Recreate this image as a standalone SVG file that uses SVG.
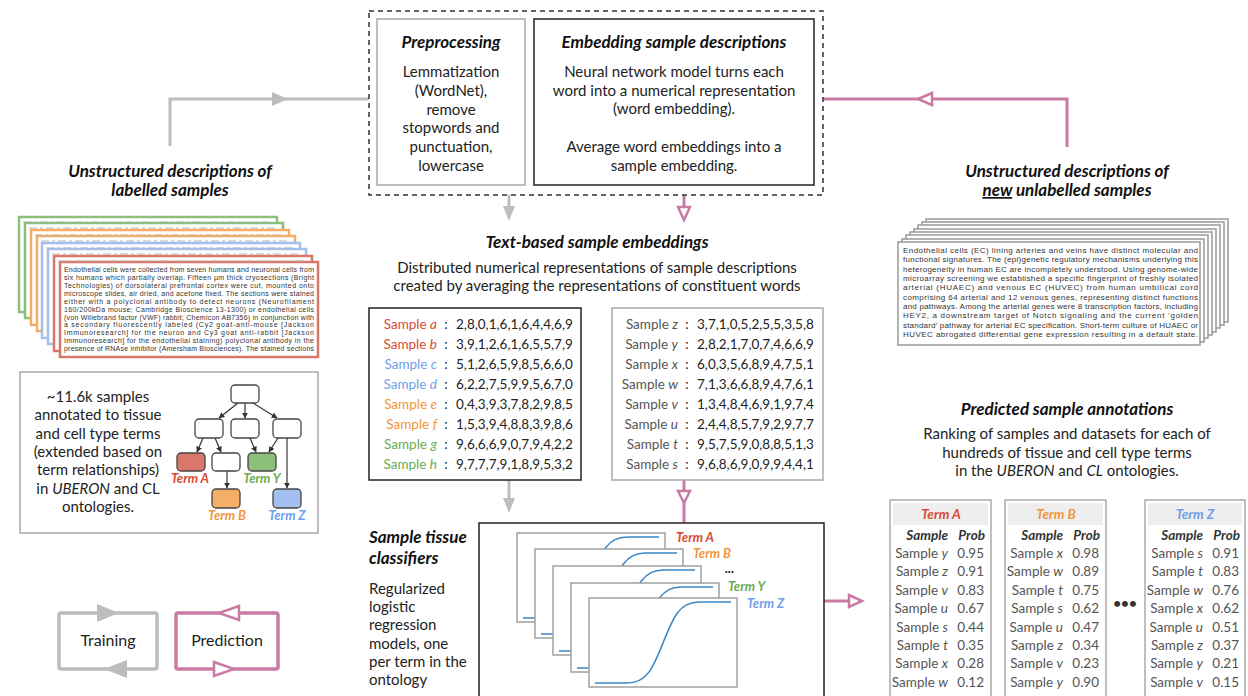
<svg xmlns="http://www.w3.org/2000/svg" xmlns:xlink="http://www.w3.org/1999/xlink" width="1248" height="696" viewBox="0 0 1248 696">
<style>
text{font-family:Lato,"Liberation Sans",sans-serif;fill:#222}
.h{font-size:17px;font-weight:700;font-style:italic;fill:#111}
.b{font-size:15px}
.c{text-anchor:middle}
.e{text-anchor:end}
.i{font-style:italic}
.doc{font-family:"Liberation Sans",Arial,sans-serif;fill:#333}
.gl{stroke:#bdbdbd;stroke-width:3;fill:none}
.pl{stroke:#c97ba5;stroke-width:3;fill:none}
.ga{fill:#bdbdbd}
.pa{fill:#fff;stroke:#c97ba5;stroke-width:2.5}
.tn{fill:#fff;stroke:#444;stroke-width:1.3}
.te{stroke:#333;stroke-width:1.2;fill:none;marker-end:url(#tri)}
.tl{font-size:13px;font-weight:700;font-style:italic}
.s{font-size:13.5px}
.g{fill:#555}
.th{font-size:13.5px;font-weight:700;font-style:italic;fill:#333}
.red{fill:#d94a33}.org{fill:#f0953c}.blu{fill:#6f9fe8}.grn{fill:#6aab52}
</style>
<defs>
<marker id="tri" viewBox="0 0 10 10" refX="9" refY="5" markerWidth="6" markerHeight="6" markerUnits="userSpaceOnUse" orient="auto"><path d="M0,0 L10,5 L0,10 z" fill="#333"/></marker>
<g id="card"><rect x="0" y="0" width="148" height="89" fill="#fff" stroke="#a0a0a0" stroke-width="1.5"/><path d="M6,85 H38 C58,85 64,70 74,45 C84,20 90,4 110,4 H142" fill="none" stroke="#3a87c8" stroke-width="1.6"/></g>
</defs>
<rect width="1248" height="696" fill="#fff"/>

<g id="connectors">
<polyline class="gl" points="170,146 170,99 369,99"/>
<polygon class="ga" points="272,92 288,99 272,106"/>
<polyline class="pl" points="1067,147 1067,99 823,99"/>
<polygon class="pa" points="932,93 918,99 932,105"/>
<line class="gl" x1="509" y1="195" x2="509" y2="208"/>
<polygon class="ga" points="503,206 515,206 509,221"/>
<line class="pl" x1="684" y1="195" x2="684" y2="208"/>
<polygon class="pa" points="678,207 690,207 684,220"/>
<line class="gl" x1="509" y1="480" x2="509" y2="500"/>
<polygon class="ga" points="503,498 515,498 509,513"/>
<line class="pl" x1="684" y1="480" x2="684" y2="523"/>
<polygon class="pa" points="678,491 690,491 684,503"/>
<line class="pl" x1="824" y1="601" x2="862" y2="601"/>
<polygon class="pa" points="849,595 862,601 849,607"/>
</g>

<g id="pipeline">
<rect x="369" y="11" width="454" height="184" fill="none" stroke="#333" stroke-width="1.5" stroke-dasharray="5,4"/>
</g>
<g id="preprocessing">
<rect x="377" y="19" width="148" height="166" fill="#fff" stroke="#aaa" stroke-width="1.5"/>
<text class="h c" x="451" y="48">Preprocessing</text>
<text class="b c" x="451" y="77">Lemmatization</text>
<text class="b c" x="451" y="96">(WordNet),</text>
<text class="b c" x="451" y="115">remove</text>
<text class="b c" x="451" y="133">stopwords and</text>
<text class="b c" x="451" y="152">punctuation,</text>
<text class="b c" x="451" y="171">lowercase</text>
</g>
<g id="embedding">
<rect x="534" y="19" width="280" height="166" fill="#fff" stroke="#222" stroke-width="1.5"/>
<text class="h c" x="674" y="48">Embedding sample descriptions</text>
<text class="b c" x="674" y="77">Neural network model turns each</text>
<text class="b c" x="674" y="96">word into a numerical representation</text>
<text class="b c" x="674" y="114">(word embedding).</text>
<text class="b c" x="674" y="152">Average word embeddings into a</text>
<text class="b c" x="674" y="171">sample embedding.</text>
</g>

<g id="labelled-label">
<text class="h c" x="170" y="177">Unstructured descriptions of</text>
<text class="h c" x="170" y="196">labelled samples</text>
</g>
<g id="unlabelled-label">
<text class="h c" x="1067" y="177">Unstructured descriptions of</text>
<text class="h c" x="1067" y="196"><tspan text-decoration="underline">new</tspan> unlabelled samples</text>
</g>

<g id="labelled-docs">
<g stroke-width="2.5" fill="#fff">
<rect x="19" y="217" width="258" height="95" stroke="#8cc07a"/>
<rect x="25" y="223" width="258" height="95" stroke="#8cc07a"/>
<rect x="31" y="230" width="258" height="95" stroke="#f5ad66"/>
<rect x="37" y="236" width="258" height="95" stroke="#f5ad66"/>
<rect x="42" y="243" width="258" height="95" stroke="#a2bff0"/>
<rect x="48" y="249" width="258" height="95" stroke="#a2bff0"/>
<rect x="54" y="256" width="258" height="95" stroke="#d9776a"/>
<rect x="60" y="262" width="258" height="95" stroke="#d9776a"/>
</g>
<g stroke="#b5b5b5" stroke-width="1" stroke-dasharray="8,3,3,3">
<line x1="23" y1="222" x2="270" y2="222"/>
<line x1="29" y1="228" x2="276" y2="228"/>
<line x1="35" y1="235" x2="282" y2="235"/>
<line x1="41" y1="241" x2="288" y2="241"/>
<line x1="46" y1="248" x2="293" y2="248"/>
<line x1="52" y1="254" x2="299" y2="254"/>
<line x1="58" y1="261" x2="305" y2="261"/>
</g>
<g class="doc" font-size="7">
<text class="doc" x="64" y="272" textLength="250" lengthAdjust="spacing">Endothelial cells were collected from seven humans and neuronal cells from</text>
<text class="doc" x="64" y="280" textLength="250" lengthAdjust="spacing">six humans which partially overlap. Fifteen µm thick cryosections (Bright</text>
<text class="doc" x="64" y="288" textLength="250" lengthAdjust="spacing">Technologies) of dorsolateral prefrontal cortex were cut, mounted onto</text>
<text class="doc" x="64" y="296" textLength="250" lengthAdjust="spacing">microscope slides, air dried, and acetone fixed. The sections were stained</text>
<text class="doc" x="64" y="304" textLength="250" lengthAdjust="spacing">either with a polyclonal antibody to detect neurons (Neurofilament</text>
<text class="doc" x="64" y="312" textLength="250" lengthAdjust="spacing">160/200kDa mouse; Cambridge Bioscience 13-1300) or endothelial cells</text>
<text class="doc" x="64" y="320" textLength="250" lengthAdjust="spacing">(von Willebrand factor (VWF) rabbit; Chemicon AB7356) in conjunction with</text>
<text class="doc" x="64" y="327" textLength="250" lengthAdjust="spacing">a secondary fluorescently labeled (Cy2 goat-anti-mouse [Jackson</text>
<text class="doc" x="64" y="335" textLength="250" lengthAdjust="spacing">Immunoresearch] for the neuron and Cy3 goat anti-rabbit [Jackson</text>
<text class="doc" x="64" y="343" textLength="250" lengthAdjust="spacing">Immunoresearch] for the endothelial staining) polyclonal antibody in the</text>
<text class="doc" x="64" y="351" textLength="250" lengthAdjust="spacing">presence of RNAse inhibitor (Amersham Biosciences). The stained sections</text>
</g>
</g>

<g id="unlabelled-docs">
<g fill="#fff" stroke="#999" stroke-width="1.5">
<rect x="926" y="219" width="302" height="103"/>
<rect x="922" y="222" width="302" height="103"/>
<rect x="918" y="225" width="302" height="103"/>
<rect x="914" y="229" width="302" height="103"/>
<rect x="910" y="232" width="302" height="103"/>
<rect x="906" y="235" width="302" height="103"/>
<rect x="902" y="239" width="302" height="103"/>
<rect x="898" y="242" width="302" height="103"/>
</g>
<g font-size="8">
<text class="doc" x="903" y="253" textLength="295" lengthAdjust="spacing" font-size="8">Endothelial cells (EC) lining arteries and veins have distinct molecular and</text>
<text class="doc" x="903" y="262" textLength="295" lengthAdjust="spacing" font-size="8">functional signatures. The (epi)genetic regulatory mechanisms underlying this</text>
<text class="doc" x="903" y="272" textLength="295" lengthAdjust="spacing" font-size="8">heterogeneity in human EC are incompletely understood. Using genome-wide</text>
<text class="doc" x="903" y="281" textLength="295" lengthAdjust="spacing" font-size="8">microarray screening we established a specific fingerprint of freshly isolated</text>
<text class="doc" x="903" y="290" textLength="295" lengthAdjust="spacing" font-size="8">arterial (HUAEC) and venous EC (HUVEC) from human umbilical cord</text>
<text class="doc" x="903" y="300" textLength="295" lengthAdjust="spacing" font-size="8">comprising 64 arterial and 12 venous genes, representing distinct functions</text>
<text class="doc" x="903" y="309" textLength="295" lengthAdjust="spacing" font-size="8">and pathways. Among the arterial genes were 8 transcription factors, including</text>
<text class="doc" x="903" y="318" textLength="295" lengthAdjust="spacing" font-size="8">HEY2, a downstream target of Notch signaling and the current ‘golden</text>
<text class="doc" x="903" y="328" textLength="295" lengthAdjust="spacing" font-size="8">standard’ pathway for arterial EC specification. Short-term culture of HUAEC or</text>
<text class="doc" x="903" y="337" textLength="295" lengthAdjust="spacing" font-size="8">HUVEC abrogated differential gene expression resulting in a default state.</text>
</g>
</g>

<g id="ontology-box">
<rect x="20" y="372" width="298" height="161" fill="#fff" stroke="#aaa" stroke-width="1.5"/>
<text class="b c" font-size="15.5" x="98" y="402">~11.6k samples</text>
<text class="b c" font-size="15.5" x="98" y="420">annotated to tissue</text>
<text class="b c" font-size="15.5" x="98" y="439">and cell type terms</text>
<text class="b c" font-size="15.5" x="98" y="457">(extended based on</text>
<text class="b c" font-size="15.5" x="98" y="475">term relationships)</text>
<text class="b c" font-size="15.5" x="98" y="494">in <tspan class="i">UBERON</tspan> and CL</text>
<text class="b c" font-size="15.5" x="98" y="512">ontologies.</text>
<g id="tree-edges">
<line class="te" x1="238" y1="403" x2="219" y2="418"/>
<line class="te" x1="245" y1="403" x2="245" y2="418"/>
<line class="te" x1="253" y1="403" x2="277" y2="418"/>
<line class="te" x1="203" y1="438" x2="197" y2="452"/>
<line class="te" x1="215" y1="438" x2="221" y2="452"/>
<line class="te" x1="250" y1="438" x2="256" y2="452"/>
<line class="te" x1="278" y1="438" x2="269" y2="452"/>
<line class="te" x1="287" y1="438" x2="287" y2="488"/>
<line class="te" x1="227" y1="471" x2="227" y2="488"/>
</g>
<rect class="tn" x="231" y="385" width="28" height="18" rx="4"/>
<rect class="tn" x="195" y="419" width="28" height="19" rx="4"/>
<rect class="tn" x="231" y="419" width="28" height="19" rx="4"/>
<rect class="tn" x="273" y="419" width="28" height="19" rx="4"/>
<rect class="tn" x="177" y="453" width="28" height="18" rx="4" style="fill:#d9776a"/>
<rect class="tn" x="212" y="453" width="28" height="18" rx="4"/>
<rect class="tn" x="248" y="453" width="28" height="18" rx="4" style="fill:#8cc07a"/>
<rect class="tn" x="212" y="489" width="28" height="19" rx="4" style="fill:#f5ae66"/>
<rect class="tn" x="273" y="489" width="28" height="19" rx="4" style="fill:#a2bff0"/>
<text class="tl c red" x="190" y="483">Term A</text>
<text class="tl c grn" x="262" y="483">Term Y</text>
<text class="tl c org" x="227" y="520">Term B</text>
<text class="tl c blu" x="287" y="520">Term Z</text>
</g>

<g id="embeddings-title">
<text class="h c" x="597" y="248">Text-based sample embeddings</text>
<text class="b c" x="597" y="273">Distributed numerical representations of sample descriptions</text>
<text class="b c" x="597" y="291">created by averaging the representations of constituent words</text>
</g>

<g id="labelled-embeddings">
<rect x="369" y="308" width="212" height="172" fill="#fff" stroke="#222" stroke-width="1.5"/>
<g class="s">
<text class="s e red" x="437" y="329">Sample <tspan class="i">a</tspan></text>
<text class="s e red" x="437" y="349">Sample <tspan class="i">b</tspan></text>
<text class="s e blu" x="437" y="369">Sample <tspan class="i">c</tspan></text>
<text class="s e blu" x="437" y="389">Sample <tspan class="i">d</tspan></text>
<text class="s e org" x="437" y="409">Sample <tspan class="i">e</tspan></text>
<text class="s e org" x="437" y="429">Sample <tspan class="i">f</tspan></text>
<text class="s e grn" x="437" y="449">Sample <tspan class="i">g</tspan></text>
<text class="s e grn" x="437" y="469">Sample <tspan class="i">h</tspan></text>
<text class="s c" x="446" y="329">:</text><text class="s" x="456" y="329">2,8,0,1,6,1,6,4,4,6,9</text>
<text class="s c" x="446" y="349">:</text><text class="s" x="456" y="349">3,9,1,2,6,1,6,5,5,7,9</text>
<text class="s c" x="446" y="369">:</text><text class="s" x="456" y="369">5,1,2,6,5,9,8,5,6,6,0</text>
<text class="s c" x="446" y="389">:</text><text class="s" x="456" y="389">6,2,2,7,5,9,9,5,6,7,0</text>
<text class="s c" x="446" y="409">:</text><text class="s" x="456" y="409">0,4,3,9,3,7,8,2,9,8,5</text>
<text class="s c" x="446" y="429">:</text><text class="s" x="456" y="429">1,5,3,9,4,8,8,3,9,8,6</text>
<text class="s c" x="446" y="449">:</text><text class="s" x="456" y="449">9,6,6,6,9,0,7,9,4,2,2</text>
<text class="s c" x="446" y="469">:</text><text class="s" x="456" y="469">9,7,7,7,9,1,8,9,5,3,2</text>
</g>
</g>

<g id="unlabelled-embeddings">
<rect x="612" y="308" width="211" height="172" fill="#fff" stroke="#aaa" stroke-width="1.5"/>
<text class="s e g" x="678" y="329">Sample <tspan class="i">z</tspan></text>
<text class="s e g" x="678" y="349">Sample <tspan class="i">y</tspan></text>
<text class="s e g" x="678" y="369">Sample <tspan class="i">x</tspan></text>
<text class="s e g" x="678" y="389">Sample <tspan class="i">w</tspan></text>
<text class="s e g" x="678" y="409">Sample <tspan class="i">v</tspan></text>
<text class="s e g" x="678" y="429">Sample <tspan class="i">u</tspan></text>
<text class="s e g" x="678" y="449">Sample <tspan class="i">t</tspan></text>
<text class="s e g" x="678" y="469">Sample <tspan class="i">s</tspan></text>
<text class="s c" x="687" y="329">:</text><text class="s" x="697" y="329">3,7,1,0,5,2,5,5,3,5,8</text>
<text class="s c" x="687" y="349">:</text><text class="s" x="697" y="349">2,8,2,1,7,0,7,4,6,6,9</text>
<text class="s c" x="687" y="369">:</text><text class="s" x="697" y="369">6,0,3,5,6,8,9,4,7,5,1</text>
<text class="s c" x="687" y="389">:</text><text class="s" x="697" y="389">7,1,3,6,6,8,9,4,7,6,1</text>
<text class="s c" x="687" y="409">:</text><text class="s" x="697" y="409">1,3,4,8,4,6,9,1,9,7,4</text>
<text class="s c" x="687" y="429">:</text><text class="s" x="697" y="429">2,4,4,8,5,7,9,2,9,7,7</text>
<text class="s c" x="687" y="449">:</text><text class="s" x="697" y="449">9,5,7,5,9,0,8,8,5,1,3</text>
<text class="s c" x="687" y="469">:</text><text class="s" x="697" y="469">9,6,8,6,9,0,9,9,4,4,1</text>
</g>

<g id="classifiers-label">
<text class="h" x="369" y="543">Sample tissue</text>
<text class="h" x="369" y="564">classifiers</text>
<text class="b" x="369" y="594">Regularized</text>
<text class="b" x="369" y="612">logistic</text>
<text class="b" x="369" y="630">regression</text>
<text class="b" x="369" y="649">models, one</text>
<text class="b" x="369" y="667">per term in the</text>
<text class="b" x="369" y="685">ontology</text>
</g>

<g id="classifiers">
<rect x="479" y="523" width="345" height="178" fill="#fff" stroke="#222" stroke-width="1.5"/>
<use xlink:href="#card" href="#card" x="517" y="533"/>
<use xlink:href="#card" href="#card" x="535" y="549"/>
<use xlink:href="#card" href="#card" x="553" y="566"/>
<use xlink:href="#card" href="#card" x="571" y="583"/>
<use xlink:href="#card" href="#card" x="589" y="598"/>
<text class="tl red" x="676" y="542">Term A</text>
<text class="tl org" x="693" y="558">Term B</text>
<text class="tl" x="725" y="573">...</text>
<text class="tl grn" x="728" y="591">Term Y</text>
<text class="tl blu" x="747" y="608">Term Z</text>
</g>

<g id="predicted-title">
<text class="h c" x="1067" y="415">Predicted sample annotations</text>
<text class="b c" x="1067" y="439">Ranking of samples and datasets for each of</text>
<text class="b c" x="1067" y="458">hundreds of tissue and cell type terms</text>
<text class="b c" x="1067" y="476">in the <tspan class="i">UBERON</tspan> and <tspan class="i">CL</tspan> ontologies.</text>
</g>

<g id="table-a" transform="translate(890,0)">
<rect x="0" y="500" width="101" height="198" fill="#fff" stroke="#aaa" stroke-width="1.5"/>
<rect x="3" y="503" width="95" height="22" fill="#eeeeee"/>
<text class="th c red" x="51" y="519">Term A</text>
<text class="th e" x="58" y="540">Sample</text><text class="th e" x="95" y="540">Prob</text>
<text class="s e g" x="58" y="558">Sample <tspan class="i">y</tspan></text><text class="s e g" x="94" y="558">0.95</text>
<text class="s e g" x="58" y="576">Sample <tspan class="i">z</tspan></text><text class="s e g" x="94" y="576">0.91</text>
<text class="s e g" x="58" y="595">Sample <tspan class="i">v</tspan></text><text class="s e g" x="94" y="595">0.83</text>
<text class="s e g" x="58" y="613">Sample <tspan class="i">u</tspan></text><text class="s e g" x="94" y="613">0.67</text>
<text class="s e g" x="58" y="632">Sample <tspan class="i">s</tspan></text><text class="s e g" x="94" y="632">0.44</text>
<text class="s e g" x="58" y="650">Sample <tspan class="i">t</tspan></text><text class="s e g" x="94" y="650">0.35</text>
<text class="s e g" x="58" y="668">Sample <tspan class="i">x</tspan></text><text class="s e g" x="94" y="668">0.28</text>
<text class="s e g" x="58" y="687">Sample <tspan class="i">w</tspan></text><text class="s e g" x="94" y="687">0.12</text>
</g>
<g id="table-b" transform="translate(1005,0)">
<rect x="0" y="500" width="101" height="198" fill="#fff" stroke="#aaa" stroke-width="1.5"/>
<rect x="3" y="503" width="95" height="22" fill="#eeeeee"/>
<text class="th c org" x="51" y="519">Term B</text>
<text class="th e" x="58" y="540">Sample</text><text class="th e" x="95" y="540">Prob</text>
<text class="s e g" x="58" y="558">Sample <tspan class="i">x</tspan></text><text class="s e g" x="94" y="558">0.98</text>
<text class="s e g" x="58" y="576">Sample <tspan class="i">w</tspan></text><text class="s e g" x="94" y="576">0.89</text>
<text class="s e g" x="58" y="595">Sample <tspan class="i">t</tspan></text><text class="s e g" x="94" y="595">0.75</text>
<text class="s e g" x="58" y="613">Sample <tspan class="i">s</tspan></text><text class="s e g" x="94" y="613">0.62</text>
<text class="s e g" x="58" y="632">Sample <tspan class="i">u</tspan></text><text class="s e g" x="94" y="632">0.47</text>
<text class="s e g" x="58" y="650">Sample <tspan class="i">z</tspan></text><text class="s e g" x="94" y="650">0.34</text>
<text class="s e g" x="58" y="668">Sample <tspan class="i">v</tspan></text><text class="s e g" x="94" y="668">0.23</text>
<text class="s e g" x="58" y="687">Sample <tspan class="i">y</tspan></text><text class="s e g" x="94" y="687">0.90</text>
</g>
<g id="table-ellipsis">
<text class="th c" x="1125" y="608" style="font-style:normal">•••</text>
</g>
<g id="table-z" transform="translate(1145,0)">
<rect x="0" y="500" width="100" height="198" fill="#fff" stroke="#aaa" stroke-width="1.5"/>
<rect x="3" y="503" width="94" height="22" fill="#eeeeee"/>
<text class="th c blu" x="50" y="519">Term Z</text>
<text class="th e" x="58" y="540">Sample</text><text class="th e" x="95" y="540">Prob</text>
<text class="s e g" x="58" y="558">Sample <tspan class="i">s</tspan></text><text class="s e g" x="94" y="558">0.91</text>
<text class="s e g" x="58" y="576">Sample <tspan class="i">t</tspan></text><text class="s e g" x="94" y="576">0.83</text>
<text class="s e g" x="58" y="595">Sample <tspan class="i">w</tspan></text><text class="s e g" x="94" y="595">0.76</text>
<text class="s e g" x="58" y="613">Sample <tspan class="i">x</tspan></text><text class="s e g" x="94" y="613">0.62</text>
<text class="s e g" x="58" y="632">Sample <tspan class="i">u</tspan></text><text class="s e g" x="94" y="632">0.51</text>
<text class="s e g" x="58" y="650">Sample <tspan class="i">z</tspan></text><text class="s e g" x="94" y="650">0.37</text>
<text class="s e g" x="58" y="668">Sample <tspan class="i">y</tspan></text><text class="s e g" x="94" y="668">0.21</text>
<text class="s e g" x="58" y="687">Sample <tspan class="i">v</tspan></text><text class="s e g" x="94" y="687">0.15</text>
</g>

<g id="legend-training">
<rect x="59" y="613" width="98" height="56" rx="2" fill="none" stroke="#bdbdbd" stroke-width="3.5"/>
<polygon class="ga" points="97,604 119,613 97,622"/>
<polygon class="ga" points="127,660 104,669 127,678"/>
<text class="c" font-size="16" x="108" y="646">Training</text>
</g>
<g id="legend-prediction">
<rect x="176" y="613" width="102" height="56" rx="2" fill="none" stroke="#c97ba5" stroke-width="3.5"/>
<polygon class="pa" points="239,606 219,613 239,620"/>
<polygon class="pa" points="214,662 234,669 214,676"/>
<text class="c" font-size="16" x="227" y="646">Prediction</text>
</g>
</svg>
